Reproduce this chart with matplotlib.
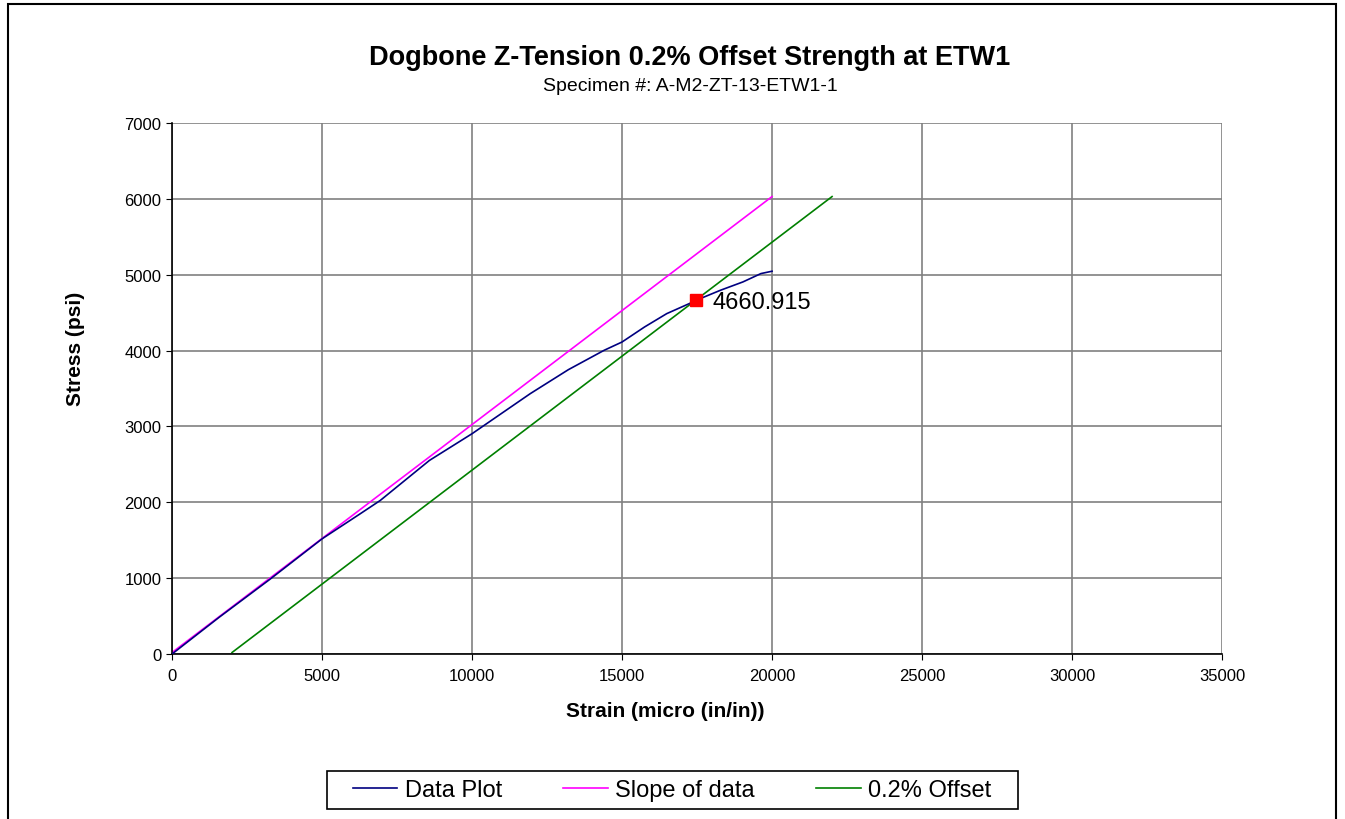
import matplotlib.pyplot as plt
from matplotlib.patches import Rectangle

plt.rcParams['font.family'] = ['Liberation Sans', 'DejaVu Sans']

# Data
strain = [0, 1570, 3280, 5000, 6270, 6940, 8580, 10000, 10970, 11940,
          13210, 14400, 15000, 15750, 16490, 17240, 17460, 18280, 19030,
          19630, 20000]
stress = [0, 484, 990, 1518, 1848, 2024, 2552, 2904, 3168, 3432,
          3748, 4003, 4113, 4311, 4487, 4619, 4661, 4795, 4905,
          5015, 5046]

slope_x = [0, 20000]
slope_y = [20, 6030]

offset_x = [2000, 22000]
offset_y = [20, 6030]

yield_x = 17450
yield_y = 4660.915

fig = plt.figure(figsize=(13.45, 8.2), dpi=100)
ax = fig.add_axes([0.1279, 0.2012, 0.7807, 0.6476])

ax.plot(strain, stress, color="#000080", lw=1.2, label="Data Plot", zorder=3)
ax.plot(slope_x, slope_y, color="#FF00FF", lw=1.2, label="Slope of data", zorder=2)
ax.plot(offset_x, offset_y, color="#008000", lw=1.2, label="0.2% Offset", zorder=2)
ax.plot([yield_x], [yield_y], marker="s", color="red", markersize=8, ls="none", zorder=4)
ax.annotate(f"{yield_y:.3f}", (yield_x, yield_y), xytext=(12, -1),
            textcoords="offset points", va="center", ha="left", fontsize=17)

ax.set_xlim(0, 35000)
ax.set_ylim(0, 7000)
ax.set_xticks(range(0, 35001, 5000))
ax.set_yticks(range(0, 7001, 1000))
ax.tick_params(labelsize=12, direction="out", length=4, color="black")
ax.tick_params(axis="x", pad=6)
ax.grid(True, color="#808080", lw=1.2)
ax.set_axisbelow(True)
for s in ["top", "right"]:
    ax.spines[s].set_visible(False)
for s in ["left", "bottom"]:
    ax.spines[s].set_color("black")
    ax.spines[s].set_linewidth(1.2)

ax.set_xlabel("Strain (micro (in/in))", fontsize=15, fontweight="bold")
ax.xaxis.set_label_coords(0.47, -0.088)
ax.set_ylabel("Stress (psi)", fontsize=15, fontweight="bold")
ax.yaxis.set_label_coords(-0.092, 0.576)
ax.yaxis.label.set_va("center")

fig.text(0.513, 0.929, "Dogbone Z-Tension 0.2% Offset Strength at ETW1",
         ha="center", va="center", fontsize=19.5, fontweight="bold")
fig.text(0.513, 0.895, "Specimen #: A-M2-ZT-13-ETW1-1", ha="center", va="center", fontsize=14)

# legend without its own frame; the box is drawn separately so it is as wide as the original
leg = fig.legend(loc="center", bbox_to_anchor=(0.4996, 0.035), ncol=3, fontsize=17,
                 frameon=False, handlelength=1.9, handletextpad=0.3, columnspacing=2.6)
fig.patches.append(Rectangle((327 / 1345, 1 - 810 / 820), 691 / 1345, 38 / 820,
                             transform=fig.transFigure, fill=False,
                             edgecolor="black", lw=1.2))

fig.patches.append(Rectangle((0.006, -0.01), 0.987, 1.004, transform=fig.transFigure,
                             fill=False, edgecolor="black", lw=1.5))

fig.savefig("out.png", dpi=100)
